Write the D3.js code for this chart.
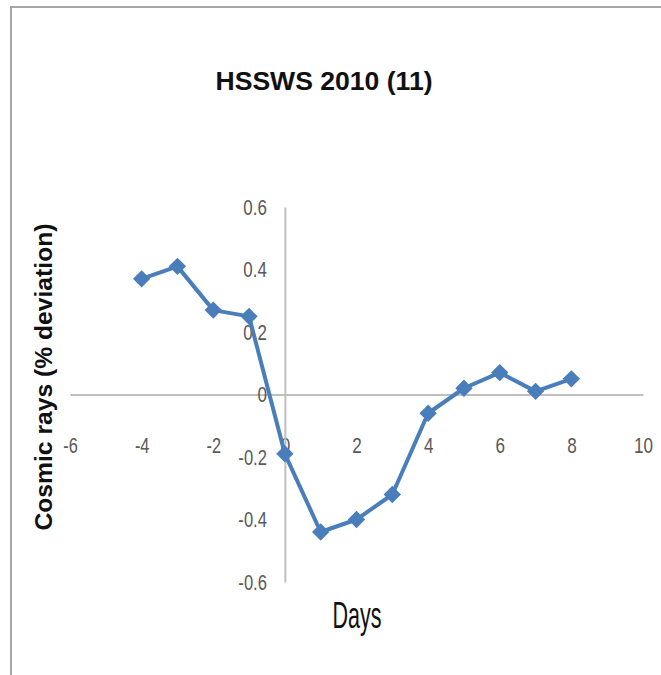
<!DOCTYPE html>
<html>
<head>
<meta charset="utf-8">
<script src="https://cdn.jsdelivr.net/npm/d3@7"></script>
<style>
  body { margin: 0; background: #fff; }
  svg { display: block; }
</style>
</head>
<body>
<script>
// data
var days = [-4, -3, -2, -1, 0, 1, 2, 3, 4, 5, 6, 7, 8];
var deviation = [0.37, 0.41, 0.27, 0.25, -0.19, -0.44, -0.40, -0.32, -0.06, 0.02, 0.07, 0.01, 0.05];
var xTicks = [-6, -4, -2, 0, 2, 4, 6, 8, 10];
var yTicks = [-0.6, -0.4, -0.2, 0, 0.2, 0.4, 0.6];
var title = "HSSWS 2010 (11)";
var xTitle = "Days";
var yTitle = "Cosmic rays (% deviation)";

var width = 661, height = 675;
var blue = "#4a7ebb", axisGrey = "#bfbfbf", labelGrey = "#595959";

var svg = d3.select("body").append("svg").attr("width", width).attr("height", height);

// kant runt diagrammet (höger/nederkant ligger utanför bilden)
svg.append("rect")
  .attr("x", 11).attr("y", 7).attr("width", 700).attr("height", 700)
  .attr("fill", "none").attr("stroke", "#a6a6a6").attr("stroke-width", 2);

// skalor
var x = d3.scaleLinear().domain([-6, 10]).range([70, 643]);
var y = d3.scaleLinear().domain([-0.6, 0.6]).range([582, 207]);

// vanligt bindestreck som minus, som i originalet
function fmtX(d) { return String(d); }
function fmtY(d) { return d === 0 ? "0" : d.toFixed(1); }

// smal och hög siffra: bredd per tecken
function labelWidth(s) {
  var w = 0;
  for (var k = 0; k < s.length; k++) {
    var c = s[k];
    w += c === "." ? 4.5 : c === "-" ? 5 : 9.5;
  }
  return w;
}

// x-axel vid y = 0
var xAxis = d3.axisBottom(x).tickValues(xTicks).tickSize(0).tickPadding(43).tickFormat(fmtX);
var gx = svg.append("g").attr("transform", "translate(0," + y(0) + ")").call(xAxis);

// y-axel vid x = 0
var yAxis = d3.axisLeft(y).tickValues(yTicks).tickSize(0).tickPadding(18).tickFormat(fmtY);
var gy = svg.append("g").attr("transform", "translate(" + x(0) + ",0)").call(yAxis);

[gx, gy].forEach(function(g) {
  g.select(".domain").attr("stroke", axisGrey).attr("stroke-width", 2);
  g.selectAll("text")
    .attr("fill", labelGrey)
    .attr("textLength", function() { return labelWidth(this.textContent); })
    .attr("lengthAdjust", "spacingAndGlyphs")
    .style("font-family", "'Liberation Sans', sans-serif")
    .style("font-size", "22px");
});

// linjen
var line = d3.line()
  .x(function(d, i) { return x(days[i]); })
  .y(function(d) { return y(d); });

svg.append("path")
  .datum(deviation)
  .attr("d", line)
  .attr("fill", "none")
  .attr("stroke", blue)
  .attr("stroke-width", 4)
  .attr("stroke-linejoin", "round");

// romber
svg.selectAll(".marker").data(deviation).enter()
  .append("path")
  .attr("class", "marker")
  .attr("d", d3.symbol().type(d3.symbolSquare).size(150))
  .attr("transform", function(d, i) {
    return "translate(" + x(days[i]) + "," + y(d) + ") rotate(45)";
  })
  .attr("fill", blue);

// titlar
svg.append("text")
  .attr("x", 324).attr("y", 90)
  .attr("text-anchor", "middle")
  .attr("textLength", 217).attr("lengthAdjust", "spacingAndGlyphs")
  .style("font-family", "'Liberation Sans', sans-serif")
  .style("font-weight", "bold")
  .style("font-size", "25px")
  .attr("fill", "#111")
  .text(title);

svg.append("text")
  .attr("x", 357).attr("y", 628)
  .attr("text-anchor", "middle")
  .attr("textLength", 49).attr("lengthAdjust", "spacingAndGlyphs")
  .style("font-family", "'Liberation Sans', sans-serif")
  .style("font-size", "36px")
  .attr("fill", "#111")
  .text(xTitle);

svg.append("text")
  .attr("transform", "translate(52,377) rotate(-90)")
  .attr("text-anchor", "middle")
  .attr("textLength", 307).attr("lengthAdjust", "spacingAndGlyphs")
  .style("font-family", "'Liberation Sans', sans-serif")
  .style("font-weight", "bold")
  .style("font-size", "24px")
  .attr("fill", "#111")
  .text(yTitle);
</script>
</body>
</html>
